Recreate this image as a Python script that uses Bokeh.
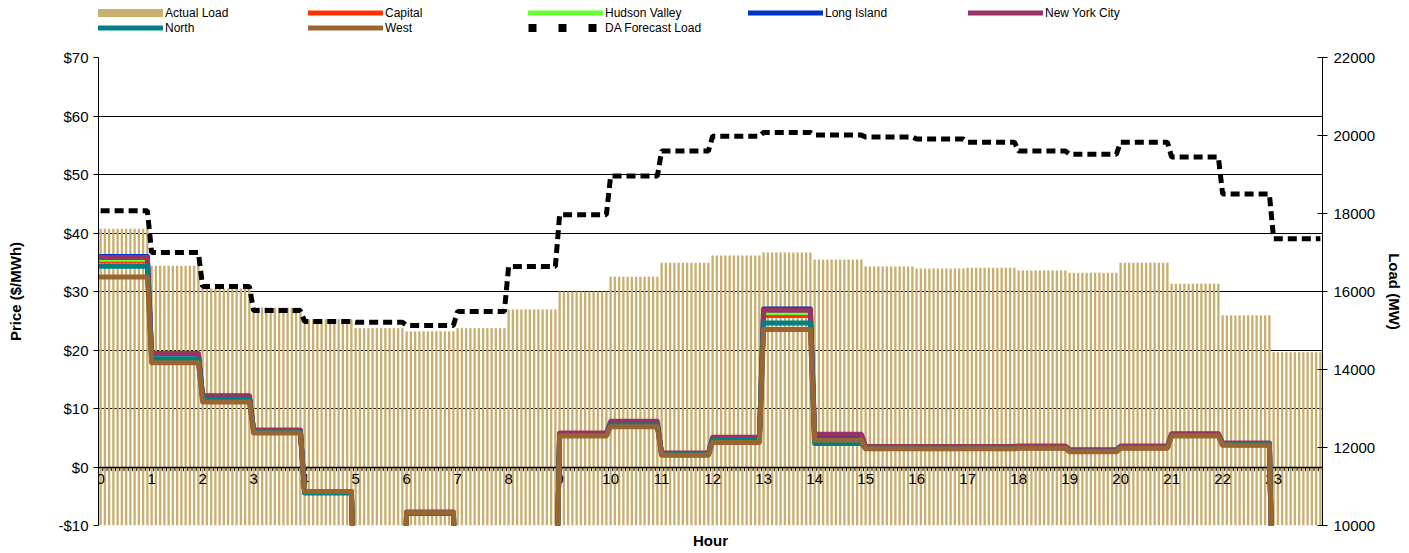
import numpy as np
from bokeh.plotting import figure
from bokeh.layouts import column
from bokeh.models import (Range1d, LinearAxis, FixedTicker, CustomJSTickFormatter,
                          Legend, LegendItem, ColumnDataSource)
from bokeh.core.properties import value
from bokeh.embed import file_html
from bokeh.resources import INLINE

# ---------------- data (hourly values, shown at 5-minute resolution) ----------------
hours = list(range(24))
hour_labels = [str(h) for h in hours]

actual_load = [17610, 16660, 16080, 15590, 15290, 15060, 14980, 15060, 15540, 16000,
               16380, 16740, 16920, 17000, 16820, 16640, 16590, 16610, 16540, 16480,
               16740, 16200, 15390, 14440]
da_forecast = [18070, 17000, 16130, 15510, 15230, 15210, 15130, 15490, 16640, 17970,
               18960, 19600, 19980, 20080, 20010, 19960, 19910, 19830, 19600, 19520,
               19830, 19450, 18500, 17350]

capital = [35.2, 18.9, 11.8, 6.1, -4.3, -30, -7.8, -30, -30, 5.5, 7.3, 2.2, 4.7, 25.9,
           5.1, 3.2, 3.2, 3.2, 3.3, 2.7, 3.3, 5.5, 3.9, -30]
hudson_valley = [35.5, 19.0, 11.9, 6.2, -4.3, -30, -7.8, -30, -30, 5.6, 7.4, 2.2, 4.8, 26.4,
                 5.2, 3.3, 3.3, 3.3, 3.4, 2.8, 3.4, 5.5, 4.0, -30]
long_island = [36.0, 19.3, 12.1, 6.3, -4.4, -30, -7.9, -30, -30, 5.7, 7.1, 2.3, 4.9, 27.0,
               5.4, 3.4, 3.4, 3.4, 3.5, 2.9, 3.5, 5.6, 4.0, -30]
new_york_city = [35.8, 19.4, 12.2, 6.3, -4.2, -30, -7.7, -30, -30, 5.8, 7.8, 2.4, 5.1, 26.8,
                 5.6, 3.5, 3.5, 3.5, 3.6, 2.9, 3.6, 5.7, 4.1, -30]
north = [34.3, 18.4, 11.6, 6.0, -4.4, -30, -7.9, -30, -30, 5.4, 7.2, 2.1, 4.6, 24.6,
         4.0, 3.2, 3.2, 3.2, 3.3, 2.7, 3.3, 5.4, 3.8, -30]
west = [32.5, 17.8, 11.1, 5.8, -4.2, -30, -7.8, -30, -30, 5.3, 6.9, 2.0, 4.2, 23.5,
        4.6, 3.1, 3.1, 3.1, 3.2, 2.6, 3.2, 5.3, 3.7, -30]

price_ticks = list(range(-10, 71, 10))
load_ticks = list(range(10000, 22001, 2000))

# ---------------- styles ----------------
FONT = "Liberation Sans"
TAN = "#C9AE6E"
zones = [
    ("Capital", capital, "#FF3300"),
    ("Hudson Valley", hudson_valley, "#66FF33"),
    ("Long Island", long_island, "#0033CC"),
    ("New York City", new_york_city, "#993366"),
    ("North", north, "#008080"),
    ("West", west, "#996633"),
]
zone_color = {name: col for name, _, col in zones}

PER_HOUR = 12
n = len(hours) * PER_HOUR
idx = np.arange(n)
hour_of = idx // PER_HOUR
xc = idx + 0.5

data = {"x": xc,
        "load": np.array(actual_load)[hour_of],
        "da": np.array(da_forecast)[hour_of]}
for name, vals, _ in zones:
    data[name] = np.array(vals)[hour_of]
src = ColumnDataSource(data)

W = 1407
H = 551
LEG_H = 40
p = figure(width=W, height=H - LEG_H, output_backend="svg", toolbar_location=None,
           x_range=Range1d(0, n), y_range=Range1d(-10, 70),
           min_border_left=98, min_border_right=W - 98 - 1224, min_border_top=17,
           min_border_bottom=H - LEG_H - 17 - 470)
p.outline_line_color = None
p.background_fill_color = "white"
p.border_fill_color = "white"
p.extra_y_ranges = {"load": Range1d(10000, 22000)}

# grid
p.xgrid.visible = False
p.ygrid.ticker = FixedTicker(ticks=price_ticks)
p.ygrid.grid_line_color = "black"
p.ygrid.grid_line_width = 1

# left axis
la = p.left[0]
la.ticker = FixedTicker(ticks=price_ticks)
la.formatter = CustomJSTickFormatter(code="return (tick < 0 ? '-$' : '$') + Math.abs(tick);")
la.axis_label = "Price ($/MWh)"
la.axis_label_text_font = FONT
la.axis_label_text_font_style = "bold"
la.axis_label_text_font_size = "15px"
la.axis_label_standoff = 31
la.major_label_text_font = FONT
la.major_label_text_font_size = "15px"
la.major_label_standoff = 5
la.major_tick_out = 5
la.major_tick_in = 0
la.minor_tick_line_color = None
la.axis_line_color = "black"
la.major_tick_line_color = "black"
la.major_label_text_color = "black"
la.axis_label_text_color = "black"

# bottom axis: title only
ba = p.below[0]
ba.ticker = FixedTicker(ticks=[])
ba.major_label_text_font_size = "0px"
ba.major_label_standoff = 0
ba.major_tick_out = 0
ba.major_tick_line_color = None
ba.minor_tick_line_color = None
ba.axis_line_color = None
ba.axis_label = "Hour"
ba.axis_label_text_font = FONT
ba.axis_label_text_font_style = "bold"
ba.axis_label_text_font_size = "15px"
ba.axis_label_standoff = 6
ba.axis_label_text_color = "black"

# right axis
ra = LinearAxis(y_range_name="load", ticker=FixedTicker(ticks=load_ticks), axis_label="Load (MW)")
ra.axis_label_text_font = FONT
ra.axis_label_text_font_style = "bold"
ra.axis_label_text_font_size = "15px"
ra.axis_label_standoff = 8
ra.major_label_text_font = FONT
ra.major_label_text_font_size = "15px"
ra.major_label_standoff = 6
ra.major_tick_out = 5
ra.major_tick_in = 5
ra.minor_tick_line_color = None
ra.axis_line_color = "black"
ra.major_tick_line_color = "black"
ra.major_label_text_color = "black"
ra.axis_label_text_color = "black"
p.add_layout(ra, "right")

# actual load bars
p.vbar(x="x", top="load", bottom=10000, width=0.55, source=src, y_range_name="load",
       fill_color=TAN, line_color=None)

# zero axis line with category ticks and hour labels
p.hspan(y=[0], line_color="black", line_width=1.5)
edges = np.arange(n + 1)
p.segment(x0=edges, y0=np.zeros(n + 1), x1=edges, y1=np.full(n + 1, -0.7),
          line_color="black", line_width=1)
p.text(x=np.array(hours) * PER_HOUR + 0.5, y=np.zeros(len(hours)), text=hour_labels,
       text_align="center", text_baseline="top", y_offset=7,
       text_font=value(FONT), text_font_size="15px", text_color="black")

# DA forecast
p.line(x="x", y="da", source=src, y_range_name="load", line_color="black",
       line_width=5, line_dash="9 5")

# zone prices
for name, _, col in zones:
    p.line(x="x", y=name, source=src, line_color=col, line_width=5,
           line_join="round", line_cap="round")

# ---------------- legend strip ----------------
lf = figure(width=W, height=LEG_H, output_backend="svg", toolbar_location=None,
            x_range=Range1d(0, 1), y_range=Range1d(0, 1),
            x_axis_location=None, y_axis_location=None,
            min_border=0, min_border_left=0, min_border_right=0,
            min_border_top=0, min_border_bottom=0)
lf.outline_line_color = None
lf.grid.visible = False
lf.background_fill_color = "white"
lf.border_fill_color = "white"

# legend proxy renderers: one point placed outside the strip's visible range
proxy = ColumnDataSource({"x": [-5.0], "y": [-5.0]})
legend_order = ["Actual Load", "Capital", "Hudson Valley", "Long Island", "New York City",
                "North", "West", "DA Forecast Load"]
items = []
for name in legend_order:
    if name == "Actual Load":
        r = lf.line(x="x", y="y", source=proxy, line_color=TAN, line_width=8, line_cap="butt")
    elif name == "DA Forecast Load":
        r = lf.line(x="x", y="y", source=proxy, line_color="black", line_width=8,
                    line_dash="8 22", line_cap="butt")
    else:
        r = lf.line(x="x", y="y", source=proxy, line_color=zone_color[name], line_width=5,
                    line_cap="round")
    items.append(LegendItem(label=name, renderers=[r]))

# the strip's frame is aligned with the chart's frame (left edge at 98 px)
leg = Legend(items=items, location=(-10, 5), orientation="horizontal", ncols=5,
             glyph_width=75, glyph_height=15, label_height=15, label_width=143,
             label_standoff=2, spacing=0, padding=0, margin=0,
             label_text_font=FONT, label_text_font_size="12px", label_text_color="black",
             border_line_color=None, background_fill_alpha=0)
lf.add_layout(leg, "center")

layout = column(lf, p, spacing=0)
open("out.html", "w").write(file_html(layout, INLINE))
